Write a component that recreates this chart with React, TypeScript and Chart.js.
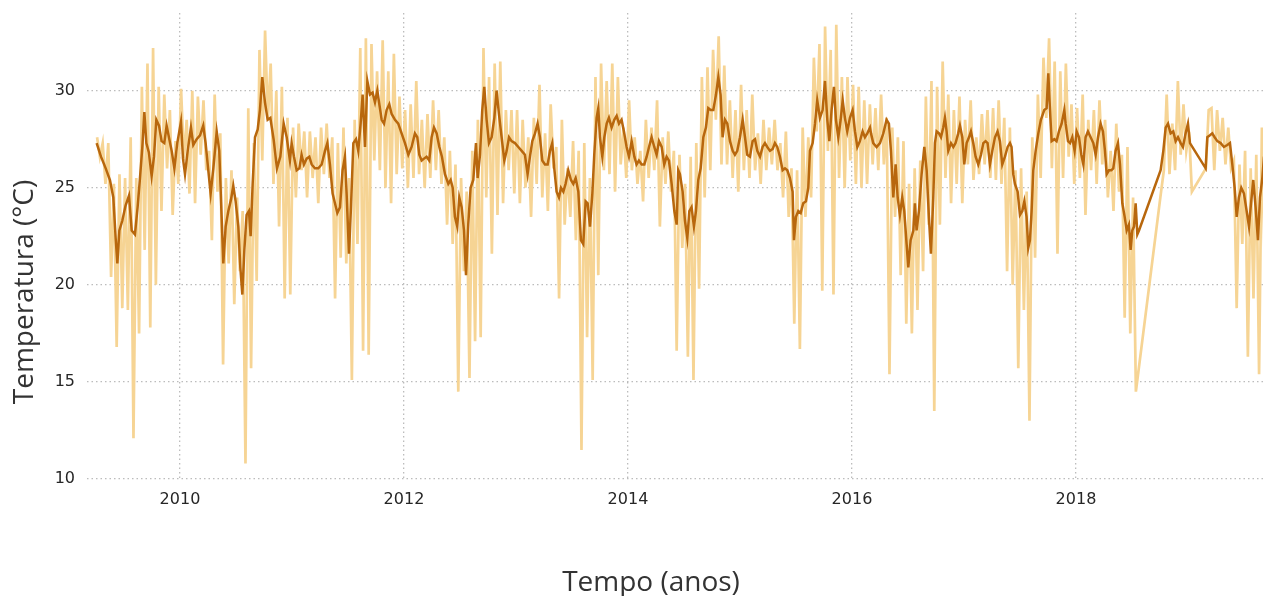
import React, { useEffect, useRef } from "react";
import { Chart, registerables } from "chart.js";

Chart.register(...registerables);

const xTitle = "Tempo (anos)";
const yTitle = "Temperatura (°C)";
const xTickYears = [2010, 2012, 2014, 2016, 2018];
const yTickValues = [10, 15, 20, 25, 30];
const xMinYear = 2009.17;
const xMaxYear = 2019.67;
const yMinTemp = 10;
const yMaxTemp = 34;

// Smoothed series (dark line): decimal year + temperature
const darkYears = [
  2009.256, 2009.295, 2009.337, 2009.375, 2009.405, 2009.426, 2009.441, 2009.459, 2009.485, 2009.515,
  2009.545, 2009.569, 2009.598, 2009.622, 2009.643, 2009.664, 2009.682, 2009.700, 2009.723, 2009.747,
  2009.768, 2009.789, 2009.813, 2009.836, 2009.860, 2009.881, 2009.905, 2009.926, 2009.950, 2009.976,
  2010.009, 2010.027, 2010.045, 2010.069, 2010.098, 2010.119, 2010.149, 2010.179, 2010.208, 2010.229,
  2010.253, 2010.274, 2010.298, 2010.328, 2010.351, 2010.372, 2010.387, 2010.408, 2010.432, 2010.456,
  2010.476, 2010.497, 2010.521, 2010.539, 2010.557, 2010.575, 2010.595, 2010.616, 2010.631, 2010.649,
  2010.670, 2010.694, 2010.714, 2010.735, 2010.759, 2010.783, 2010.807, 2010.836, 2010.866, 2010.896,
  2010.926,
  2010.953, 2010.982, 2010.997, 2011.018, 2011.042, 2011.066, 2011.086, 2011.107, 2011.131, 2011.155,
  2011.176, 2011.205, 2011.235, 2011.265, 2011.295, 2011.316, 2011.339, 2011.363, 2011.384, 2011.405,
  2011.429, 2011.452, 2011.473, 2011.488, 2011.509, 2011.527, 2011.548, 2011.572, 2011.592, 2011.613,
  2011.631, 2011.652, 2011.673, 2011.697, 2011.720, 2011.741, 2011.762, 2011.780, 2011.801, 2011.822,
  2011.845, 2011.869, 2011.890, 2011.920, 2011.949, 2011.979, 2012.009, 2012.039, 2012.068, 2012.098,
  2012.119, 2012.137, 2012.158, 2012.179, 2012.202, 2012.226, 2012.247, 2012.268, 2012.292, 2012.316,
  2012.339, 2012.366, 2012.396, 2012.417, 2012.435, 2012.455, 2012.476, 2012.494, 2012.515, 2012.536,
  2012.554, 2012.574, 2012.595, 2012.619, 2012.643,
  2012.658, 2012.679, 2012.699, 2012.717, 2012.738, 2012.759, 2012.783, 2012.807, 2012.827, 2012.848,
  2012.872, 2012.896, 2012.917, 2012.938, 2012.961, 2012.991, 2013.021, 2013.051, 2013.080, 2013.104,
  2013.125, 2013.146, 2013.170, 2013.193, 2013.214, 2013.235, 2013.259, 2013.283, 2013.304, 2013.324,
  2013.342, 2013.363, 2013.384, 2013.402, 2013.423, 2013.443, 2013.467, 2013.491, 2013.512, 2013.533,
  2013.557, 2013.580, 2013.601, 2013.622, 2013.640, 2013.661, 2013.682, 2013.699, 2013.720, 2013.735,
  2013.750, 2013.771, 2013.789, 2013.810, 2013.830, 2013.854, 2013.878, 2013.899, 2013.920, 2013.943,
  2013.964, 2013.988, 2014.009, 2014.033, 2014.057, 2014.077, 2014.098, 2014.122, 2014.146, 2014.167,
  2014.188, 2014.211, 2014.235, 2014.256, 2014.277, 2014.301, 2014.324, 2014.345, 2014.366, 2014.390,
  2014.414,
  2014.435, 2014.449, 2014.464, 2014.488, 2014.509, 2014.530, 2014.548, 2014.568, 2014.589, 2014.607,
  2014.628, 2014.649, 2014.673, 2014.696, 2014.717, 2014.738, 2014.762, 2014.786, 2014.807, 2014.827,
  2014.845, 2014.866, 2014.887, 2014.911, 2014.935, 2014.955, 2014.976, 2015.000, 2015.024, 2015.045,
  2015.065, 2015.089, 2015.113, 2015.134, 2015.155, 2015.179, 2015.202, 2015.223, 2015.244, 2015.268,
  2015.292, 2015.312, 2015.333, 2015.357, 2015.381, 2015.402, 2015.423, 2015.446, 2015.470, 2015.482,
  2015.500, 2015.521, 2015.542, 2015.565, 2015.589, 2015.610, 2015.625, 2015.649, 2015.670, 2015.690,
  2015.714, 2015.738, 2015.759, 2015.780, 2015.798, 2015.818, 2015.839, 2015.857, 2015.878, 2015.899,
  2015.917, 2015.937, 2015.958, 2015.982, 2016.006, 2016.027, 2016.048, 2016.071, 2016.095, 2016.116,
  2016.137, 2016.161,
  2016.170, 2016.190, 2016.220, 2016.250, 2016.280, 2016.309, 2016.330, 2016.348, 2016.369, 2016.390,
  2016.408, 2016.428, 2016.449, 2016.467, 2016.488, 2016.503, 2016.524, 2016.548, 2016.562, 2016.577,
  2016.598, 2016.622, 2016.646, 2016.667, 2016.687, 2016.705, 2016.726, 2016.741, 2016.756, 2016.777,
  2016.795, 2016.815, 2016.830, 2016.845, 2016.860, 2016.884, 2016.905, 2016.925, 2016.949, 2016.964,
  2016.985, 2017.003, 2017.024, 2017.045, 2017.062, 2017.083, 2017.104, 2017.128, 2017.152, 2017.173,
  2017.193, 2017.211, 2017.232, 2017.253, 2017.277, 2017.300, 2017.321, 2017.342, 2017.366, 2017.390,
  2017.411, 2017.425, 2017.440, 2017.455, 2017.479, 2017.500, 2017.521, 2017.539, 2017.559, 2017.574,
  2017.589, 2017.604, 2017.619, 2017.640, 2017.664, 2017.687, 2017.717, 2017.738, 2017.753, 2017.768,
  2017.783, 2017.807, 2017.827, 2017.848, 2017.872, 2017.896,
  2017.908, 2017.929, 2017.947, 2017.967, 2017.988, 2018.006, 2018.027, 2018.048, 2018.066, 2018.086,
  2018.107, 2018.131, 2018.155, 2018.176, 2018.197, 2018.220, 2018.241, 2018.259, 2018.274, 2018.295,
  2018.316, 2018.333, 2018.354, 2018.375, 2018.393, 2018.414, 2018.435, 2018.453, 2018.473, 2018.488,
  2018.503, 2018.518, 2018.533, 2018.548, 2018.563, 2018.756, 2018.780, 2018.801, 2018.822, 2018.845,
  2018.869, 2018.890, 2018.911, 2018.935, 2018.955, 2018.979, 2019.000, 2019.018, 2019.158, 2019.173,
  2019.196, 2019.217, 2019.238, 2019.262, 2019.292, 2019.321, 2019.351, 2019.375, 2019.396, 2019.417,
  2019.435, 2019.455, 2019.476, 2019.500, 2019.524, 2019.545, 2019.560, 2019.583, 2019.604, 2019.625,
  2019.643, 2019.664, 2019.679,
];

const darkTemps = [
  27.3, 26.6, 26.0, 25.4, 24.5, 22.4, 21.1, 22.8, 23.3, 24.1,
  24.6, 22.8, 22.6, 24.0, 25.5, 27.1, 28.9, 27.3, 26.8, 25.6,
  26.6, 28.5, 28.2, 27.4, 27.3, 28.2, 27.5, 26.9, 26.0, 27.3,
  28.4, 26.5, 25.7, 26.9, 28.1, 27.2, 27.5, 27.7, 28.2, 27.3,
  25.9, 24.7, 26.0, 27.9, 26.9, 23.5, 21.1, 23.0, 23.8, 24.4,
  25.1, 24.3, 23.0, 20.9, 19.5, 21.8, 23.6, 23.8, 22.5, 25.2,
  27.6, 28.0, 29.0, 30.7, 29.4, 28.5, 28.6, 27.5, 26.0, 26.6,
  28.3,
  27.6, 26.4, 27.3, 26.6, 25.9, 26.0, 26.7, 26.2, 26.5, 26.6,
  26.2, 26.0, 26.0, 26.2, 26.9, 27.3, 26.2, 24.7, 24.2, 23.7,
  24.0, 25.9, 26.6, 24.7, 21.6, 24.0, 27.3, 27.5, 26.9, 28.3,
  29.8, 27.1, 30.5, 29.8, 29.9, 29.4, 30.0, 29.3, 28.5, 28.3,
  29.0, 29.3, 28.8, 28.5, 28.3, 27.8, 27.3, 26.7, 27.1, 27.8,
  27.6, 26.7, 26.4, 26.5, 26.6, 26.4, 27.6, 28.1, 27.8, 27.1,
  26.6, 25.7, 25.2, 25.4, 25.0, 23.5, 23.0, 24.5, 24.0, 22.8,
  20.5, 23.1, 25.0, 25.4, 27.3,
  25.5, 26.7, 29.0, 30.2, 28.5, 27.3, 27.6, 28.6, 30.0, 28.8,
  27.6, 26.4, 26.9, 27.6, 27.4, 27.3, 27.1, 26.9, 26.7, 25.7,
  26.6, 27.4, 27.8, 28.3, 27.6, 26.4, 26.2, 26.2, 26.9, 27.3,
  26.0, 24.8, 24.5, 25.0, 24.8, 25.2, 25.9, 25.4, 25.2, 25.5,
  24.8, 22.3, 22.1, 24.3, 24.2, 23.0, 24.7, 26.7, 28.6, 29.1,
  27.6, 26.6, 27.6, 28.3, 28.6, 28.1, 28.5, 28.7, 28.3, 28.5,
  27.9, 27.1, 26.6, 27.4, 26.6, 26.2, 26.4, 26.2, 26.2, 26.6,
  27.1, 27.6, 27.1, 26.7, 27.4, 27.1, 26.2, 26.6, 26.4, 25.2,
  23.8,
  23.1, 25.9, 25.7, 24.8, 23.3, 22.4, 23.8, 24.0, 23.0, 23.8,
  25.4, 26.0, 27.6, 28.1, 29.1, 29.0, 29.0, 29.8, 30.7, 29.8,
  27.6, 28.5, 28.3, 27.4, 26.9, 26.7, 26.9, 27.6, 28.5, 27.6,
  26.7, 26.6, 27.4, 27.5, 26.9, 26.6, 27.1, 27.3, 27.1, 26.9,
  27.0, 27.3, 27.1, 26.6, 25.9, 26.0, 25.9, 25.5, 24.8, 22.3,
  23.5, 23.8, 23.7, 24.2, 24.3, 25.0, 26.9, 27.3, 28.3, 29.5,
  28.6, 29.0, 30.5, 28.5, 27.4, 29.0, 30.2, 28.5, 27.6, 28.5,
  29.5, 28.6, 27.9, 28.6, 29.0, 27.9, 27.1, 27.4, 27.9, 27.6,
  27.8, 28.1,
  27.8, 27.3, 27.1, 27.3, 27.8, 28.5, 28.3, 26.9, 24.5, 26.2,
  24.5, 23.6, 24.5, 23.8, 22.1, 20.9, 22.3, 22.8, 24.2, 22.8,
  23.8, 25.7, 27.1, 25.9, 23.5, 21.6, 24.5, 27.3, 27.9, 27.8,
  27.6, 28.1, 28.6, 27.9, 26.9, 27.3, 27.1, 27.3, 27.8, 28.2,
  27.6, 26.2, 27.3, 27.6, 27.9, 27.3, 26.6, 26.2, 26.7, 27.3,
  27.4, 27.3, 26.2, 26.9, 27.6, 27.9, 27.4, 26.2, 26.6, 27.1,
  27.3, 27.1, 25.7, 25.2, 24.8, 23.6, 23.8, 24.3, 23.5, 21.9,
  22.3, 23.8, 25.9, 26.9, 27.8, 28.5, 29.0, 29.1, 30.9, 29.0,
  27.4, 27.5, 27.4, 27.9, 28.3, 29.0,
  28.3, 27.4, 27.3, 27.6, 26.9, 27.9, 27.6, 26.7, 26.2, 27.6,
  27.9, 27.6, 27.3, 26.7, 27.6, 28.3, 27.9, 26.9, 25.7, 25.9,
  25.9, 26.0, 26.9, 27.3, 26.2, 24.2, 23.5, 22.8, 23.1, 21.8,
  22.8, 23.0, 24.2, 22.6, 22.8, 25.9, 26.9, 28.1, 28.3, 27.8,
  27.9, 27.4, 27.6, 27.3, 27.1, 27.8, 28.3, 27.3, 26.0, 27.6,
  27.7, 27.8, 27.6, 27.4, 27.3, 27.1, 27.2, 27.3, 26.2, 25.0,
  23.5, 24.5, 25.0, 24.7, 23.8, 23.0, 24.0, 25.4, 24.0, 22.3,
  24.5, 25.5, 26.6,
];

// Daily series (light line): sampled every 0.05 year, a peak reading then a trough reading
const dailyStartYear = 2009.26;
const dailyStepYears = 0.05;

const dailyPeaks = [
  27.6, 27.3, 27.3, 25.2, 25.7, 25.5, 27.6, 25.5, 30.2, 31.4,
  32.2, 30.2, 29.8, 29.0, 27.4, 30.1, 28.5, 30.0, 29.7, 29.5,
  26.9, 29.8, 27.8, 25.5, 25.9, 24.5, 23.8, 29.1, 27.3, 32.1,
  33.1, 31.4, 30.0, 30.2, 28.6, 28.1, 28.3, 27.9, 27.9, 27.6,
  28.1, 28.3, 27.6, 27.3, 28.1, 25.5, 28.5, 32.2, 32.7, 32.4,
  31.0, 32.6, 31.0, 31.9, 29.7, 29.0, 29.3, 30.5, 28.5, 28.8,
  29.5, 29.0, 27.6, 26.9, 26.2, 25.5, 24.8, 26.9, 28.5, 32.2,
  30.7, 31.4, 31.5, 29.0, 29.0, 29.0, 28.5, 27.6, 28.6, 30.3,
  27.8, 29.3, 27.1, 28.5, 26.0, 27.4, 26.9, 27.3, 25.5, 30.7,
  31.4, 30.5, 31.4, 30.7, 28.1, 29.5, 27.6, 26.9, 28.5, 28.1,
  29.5, 27.6, 27.9, 26.9, 26.7, 25.2, 26.6, 27.3, 30.7, 31.2,
  32.1, 32.8, 31.3, 29.5, 29.0, 30.3, 29.0, 29.8, 27.8, 28.5,
  28.1, 28.5, 27.3, 27.9, 26.0, 25.9, 28.1, 27.6, 31.7, 32.4,
  33.3, 32.1, 33.4, 30.7, 30.7, 30.3, 30.2, 29.5, 29.3, 29.1,
  29.8, 28.6, 28.1, 27.6, 27.4, 25.2, 26.0, 26.4, 29.7, 30.5,
  30.2, 31.5, 29.8, 29.0, 29.7, 28.5, 29.5, 27.6, 28.8, 29.0,
  29.1, 29.5, 28.6, 28.1, 25.9, 26.0, 24.8, 27.6, 29.8, 31.7,
  32.7, 31.5, 31.0, 31.4, 29.3, 29.1, 29.8, 28.5, 29.0, 29.5,
  28.5, 26.9, 28.3, 26.7, 27.1, 24.5, null, null, null, null,
  24.8, 29.8, 28.3, 30.5, 29.3, 27.9, null, null, 26.0, 29.1,
  29.0, 28.6, 28.1, 26.4, 26.2, 26.9, 26.0, 26.7, 28.1,
];

const dailyTroughs = [
  26.6, 25.2, 20.4, 16.8, 18.8, 18.7, 12.1, 17.5, 21.8, 17.8,
  20.0, 23.8, 26.0, 23.6, 25.2, 26.4, 24.7, 24.2, 26.7, 25.9,
  22.3, 24.8, 15.9, 21.1, 19.0, 20.7, 10.8, 15.7, 20.2, 26.4,
  28.5, 25.2, 23.0, 19.3, 19.5, 24.5, 25.9, 24.5, 25.5, 24.2,
  25.7, 25.5, 19.3, 21.4, 21.1, 15.1, 22.1, 16.6, 16.4, 26.4,
  25.9, 25.0, 24.2, 25.7, 26.0, 25.0, 25.5, 25.7, 25.0, 25.5,
  25.9, 25.2, 23.1, 22.1, 14.5, 20.7, 15.2, 17.1, 17.3, 24.5,
  21.6, 23.6, 24.2, 25.9, 24.7, 24.2, 25.0, 23.5, 25.2, 24.5,
  23.8, 26.0, 19.3, 23.1, 23.5, 22.3, 11.5, 17.3, 15.1, 20.5,
  25.9, 25.7, 24.8, 26.2, 25.5, 25.9, 25.2, 24.3, 25.5, 25.9,
  23.0, 25.2, 24.8, 16.6, 21.9, 16.3, 15.1, 19.8, 24.5, 25.9,
  28.5, 26.2, 26.2, 25.5, 24.8, 25.9, 25.5, 25.9, 25.2, 25.9,
  26.2, 25.9, 24.5, 23.5, 18.0, 16.7, 23.5, 24.5, 27.9, 19.7,
  26.9, 19.5, 25.5, 25.0, 26.4, 25.2, 25.0, 25.2, 26.2, 25.9,
  26.2, 15.4, 23.5, 20.5, 18.0, 17.5, 18.7, 20.7, 23.1, 13.5,
  23.1, 25.5, 24.2, 25.2, 24.2, 26.2, 25.4, 25.7, 26.2, 25.5,
  25.4, 25.2, 20.7, 20.0, 15.7, 18.7, 13.0, 21.4, 25.5, 28.6,
  26.0, 21.6, 25.5, 26.6, 25.2, 25.5, 23.6, 25.9, 25.2, 26.2,
  24.5, 23.8, 24.8, 18.3, 17.5, 14.5, null, null, null, null,
  25.9, 25.7, 25.9, 26.7, 26.9, 24.8, null, null, 29.0, 25.9,
  26.9, 26.2, 26.0, 18.8, 22.1, 16.3, 19.3, 15.4, 21.1,
];

const darkColor = "#B8670D";
const lightColor = "rgb(246, 212, 148)";
const gridColor = "rgba(165, 165, 165, 0.75)";
const tickColor = "#262626";
const titleColor = "#333333";

export default function App() {
  const canvasRef = useRef<HTMLCanvasElement | null>(null);

  useEffect(() => {
    document.body.style.margin = "0";
    const canvas = canvasRef.current;
    if (!canvas) return;

    const darkData = darkYears.map((year, i) => ({ x: year, y: darkTemps[i] }));
    const lightData: { x: number; y: number | null }[] = [];
    dailyPeaks.forEach((peak, i) => {
      const year = dailyStartYear + i * dailyStepYears;
      lightData.push({ x: year, y: peak });
      lightData.push({ x: year + dailyStepYears / 2, y: dailyTroughs[i] });
    });

    const titlePlugin = {
      id: "axisTitles",
      afterDraw(chart: any) {
        const ctx = chart.ctx;
        ctx.save();
        ctx.fillStyle = titleColor;
        ctx.font = '28px "Open Sans"';
        ctx.textAlign = "center";
        ctx.textBaseline = "alphabetic";
        ctx.fillText(xTitle, 651, 591);
        ctx.translate(33, 292);
        ctx.rotate(-Math.PI / 2);
        ctx.fillText(yTitle, 0, 0);
        ctx.restore();
      },
    };

    const chart = new Chart(canvas, {
      type: "line",
      data: {
        datasets: [
          {
            label: "Média",
            data: darkData,
            borderColor: darkColor,
            borderWidth: 2.5,
            pointRadius: 0,
            tension: 0,
            order: 0,
          },
          {
            label: "Diária",
            data: lightData,
            borderColor: lightColor,
            borderWidth: 2.7,
            pointRadius: 0,
            tension: 0,
            spanGaps: true,
            borderJoinStyle: "miter",
            order: 1,
          },
        ],
      },
      options: {
        responsive: false,
        animation: false,
        events: [],
        layout: { padding: { top: 13, right: 1, left: 0, bottom: 0 } },
        plugins: {
          legend: { display: false },
          tooltip: { enabled: false },
          title: { display: false },
        },
        scales: {
          x: {
            type: "linear",
            min: xMinYear,
            max: xMaxYear,
            afterBuildTicks: (scale: any) => {
              scale.ticks = xTickYears.map((v) => ({ value: v }));
            },
            afterFit: (scale: any) => {
              scale.height = 117;
              scale.paddingLeft = 0;
              scale.paddingRight = 0;
            },
            grid: { color: gridColor, lineWidth: 1.3, drawTicks: false },
            border: { display: false, dash: [1.5, 3] },
            ticks: {
              padding: 11,
              color: tickColor,
              font: { family: "DejaVu Sans", size: 16 },
              maxRotation: 0,
              autoSkip: false,
              callback: (v: any) => String(v),
            },
          },
          y: {
            min: yMinTemp,
            max: yMaxTemp,
            afterBuildTicks: (scale: any) => {
              scale.ticks = yTickValues.map((v) => ({ value: v }));
            },
            afterFit: (scale: any) => {
              scale.width = 87;
              scale.paddingTop = 0;
              scale.paddingBottom = 0;
            },
            grid: { color: gridColor, lineWidth: 1.3, drawTicks: false },
            border: { display: false, dash: [1.5, 3] },
            ticks: {
              padding: 12,
              color: tickColor,
              font: { family: "DejaVu Sans", size: 16 },
              autoSkip: false,
              callback: (v: any) => String(v),
            },
          },
        },
      },
      plugins: [titlePlugin],
    } as any);

    return () => chart.destroy();
  }, []);

  return (
    <div style={{ position: "absolute", left: 0, top: 0, width: 1264, height: 596, background: "#ffffff" }}>
      <canvas ref={canvasRef} width={1264} height={596} style={{ display: "block" }} />
    </div>
  );
}
